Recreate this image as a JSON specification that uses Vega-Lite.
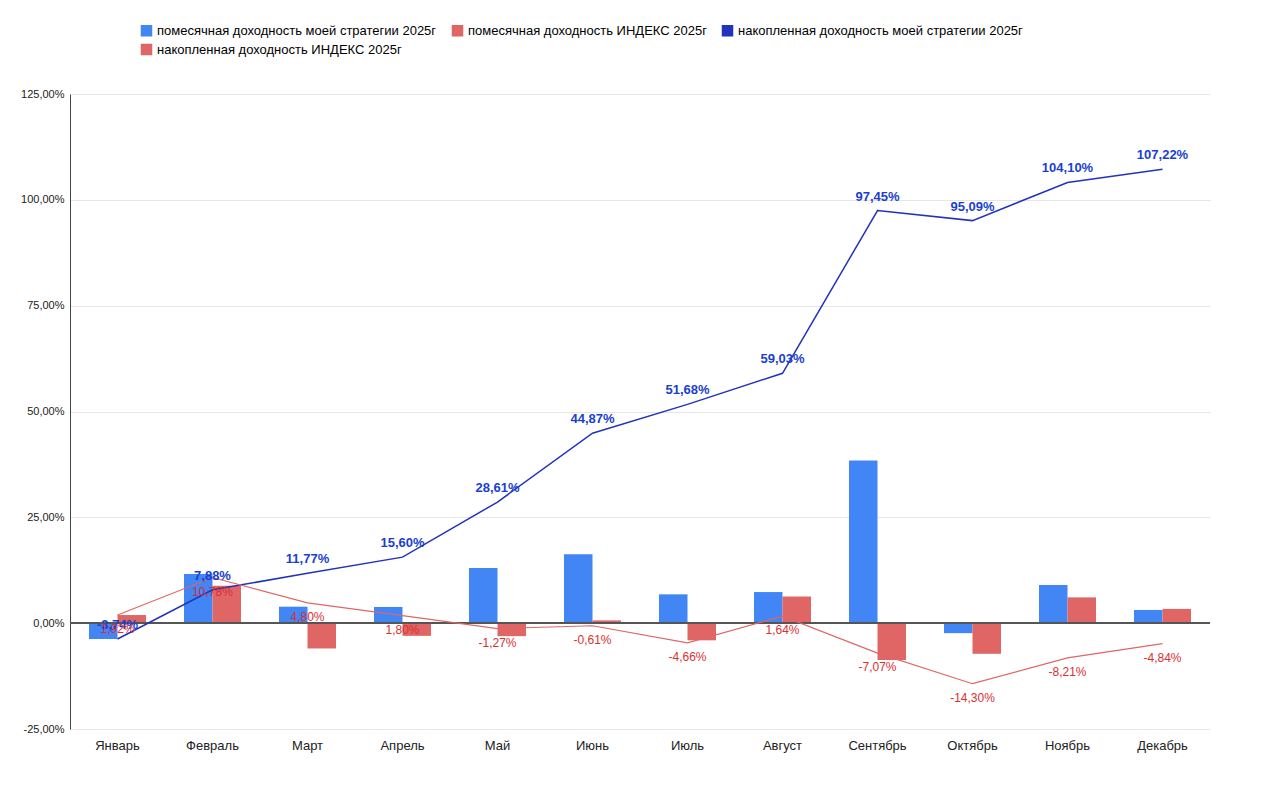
{
  "$schema": "https://vega.github.io/schema/vega-lite/v6.json",
  "width": 1140,
  "height": 635,
  "padding": {"left": 20, "top": 24, "right": 40, "bottom": 10},
  "config": {
    "locale": {"number": {"decimal": ",", "thousands": " ", "grouping": [3], "currency": ["", ""], "minus": "-"}},
    "font": "Liberation Sans",
    "view": {"stroke": null},
    "axis": {"labelFont": "Liberation Sans", "labelColor": "#222"}
  },
  "data": {
    "values": [
      {"m": "Январь", "mine": -3.74, "idx": 1.92, "cmine": -3.74, "cidx": 1.92},
      {"m": "Февраль", "mine": 11.62, "idx": 8.86, "cmine": 7.88, "cidx": 10.78},
      {"m": "Март", "mine": 3.89, "idx": -5.98, "cmine": 11.77, "cidx": 4.80},
      {"m": "Апрель", "mine": 3.83, "idx": -3.0, "cmine": 15.60, "cidx": 1.80},
      {"m": "Май", "mine": 13.01, "idx": -3.07, "cmine": 28.61, "cidx": -1.27},
      {"m": "Июнь", "mine": 16.26, "idx": 0.66, "cmine": 44.87, "cidx": -0.61},
      {"m": "Июль", "mine": 6.81, "idx": -4.05, "cmine": 51.68, "cidx": -4.66},
      {"m": "Август", "mine": 7.35, "idx": 6.30, "cmine": 59.03, "cidx": 1.64},
      {"m": "Сентябрь", "mine": 38.42, "idx": -8.71, "cmine": 97.45, "cidx": -7.07},
      {"m": "Октябрь", "mine": -2.36, "idx": -7.23, "cmine": 95.09, "cidx": -14.30},
      {"m": "Ноябрь", "mine": 9.01, "idx": 6.09, "cmine": 104.10, "cidx": -8.21},
      {"m": "Декабрь", "mine": 3.12, "idx": 3.37, "cmine": 107.22, "cidx": -4.84}
    ]
  },
  "transform": [
    {"calculate": "format(datum.cmine, '.2f') + '%'", "as": "lmine"},
    {"calculate": "format(datum.cidx, '.2f') + '%'", "as": "lidx"}
  ],
  "encoding": {
    "x": {"field": "m", "type": "nominal", "sort": null, "title": null,
      "scale": {"paddingInner": 0.4, "paddingOuter": 0.2},
      "axis": {"labelAngle": 0, "labelFontSize": 13, "domain": false, "ticks": false, "labelPadding": 10}}
  },
  "layer": [
    {
      "transform": [
        {"fold": ["mine", "idx"], "as": ["k", "v"]},
        {"calculate": "datum.k == 'mine' ? 'помесячная доходность моей стратегии 2025г' : 'помесячная доходность ИНДЕКС 2025г'", "as": "s"}
      ],
      "mark": {"type": "bar"},
      "encoding": {
        "xOffset": {"field": "k", "sort": ["mine", "idx"]},
        "y": {"field": "v", "type": "quantitative", "title": null,
          "scale": {"domain": [-25, 125], "nice": false, "zero": false},
          "axis": {"values": [-25, 0, 25, 50, 75, 100, 125], "labelExpr": "format(datum.value, '.2f') + '%'", "labelFontSize": 11, "gridColor": "#e6e6e6", "domainColor": "#444", "ticks": false, "labelPadding": 6}},
        "color": {"field": "s", "type": "nominal",
          "scale": {"domain": ["помесячная доходность моей стратегии 2025г", "помесячная доходность ИНДЕКС 2025г", "накопленная доходность моей стратегии 2025г", "накопленная доходность ИНДЕКС 2025г"],
            "range": ["#4285F4", "#E06666", "#2233BB", "#E06666"]},
          "legend": {"orient": "none", "legendX": 70, "legendY": -70, "title": null, "columns": 3, "labelFontSize": 13, "symbolType": "square", "labelLimit": 400, "direction": "horizontal", "columnPadding": 12}}
      }
    },
    {
      "mark": {"type": "rule", "color": "#555", "strokeWidth": 1},
      "encoding": {"y": {"datum": 0}, "x": null}
    },
    {
      "transform": [{"calculate": "'накопленная доходность моей стратегии 2025г'", "as": "s"}],
      "mark": {"type": "line", "strokeWidth": 1.5},
      "encoding": {"y": {"field": "cmine", "type": "quantitative"}, "color": {"field": "s", "type": "nominal"}}
    },
    {
      "transform": [{"calculate": "'накопленная доходность ИНДЕКС 2025г'", "as": "s"}],
      "mark": {"type": "line", "strokeWidth": 1.2},
      "encoding": {"y": {"field": "cidx", "type": "quantitative"}, "color": {"field": "s", "type": "nominal"}}
    },
    {
      "mark": {"type": "text", "dy": -14, "fontWeight": "bold", "fontSize": 13, "color": "#1A3FD0"},
      "encoding": {"y": {"field": "cmine", "type": "quantitative"}, "text": {"field": "lmine"}}
    },
    {
      "mark": {"type": "text", "dy": 14, "fontSize": 12, "color": "#D93030"},
      "encoding": {"y": {"field": "cidx", "type": "quantitative"}, "text": {"field": "lidx"}}
    }
  ]
}
